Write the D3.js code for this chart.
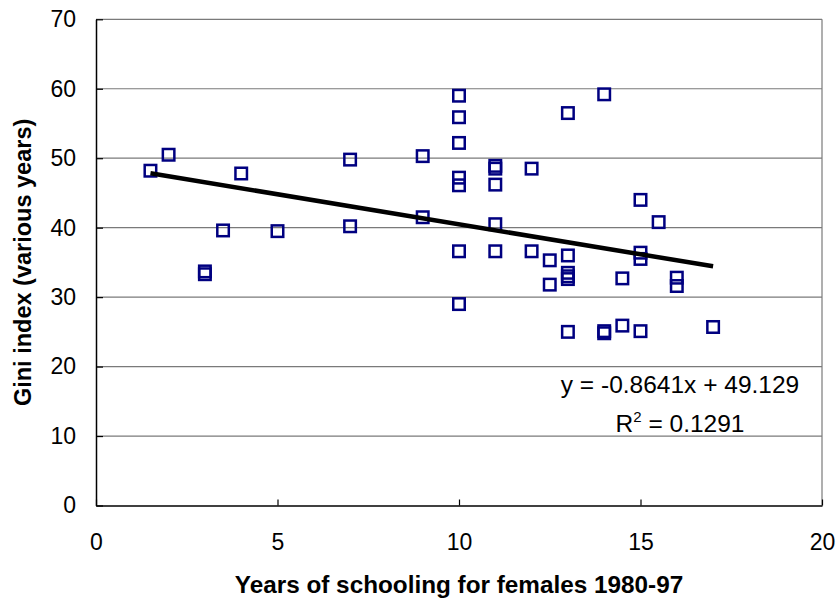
<!DOCTYPE html>
<html>
<head>
<meta charset="utf-8">
<script src="https://cdn.jsdelivr.net/npm/d3@7"></script>
<style>
  body { margin: 0; background: #fff; }
  text { font-family: "Liberation Sans", Arial, sans-serif; }
</style>
</head>
<body>
<div id="chart"></div>
<script>
// years of schooling for females (x) and Gini index (y)
const schooling = [1.5, 2, 3, 3, 3.5, 4, 5, 7, 7, 9, 9,
    10, 10, 10, 10, 10, 10, 10, 11, 11, 11, 11, 11, 12, 12, 12.5, 12.5,
    13, 13, 13, 13, 13, 13, 14, 14, 14, 14.5, 14.5, 15, 15, 15, 15, 15.5, 16, 16, 17];
const gini = [48.2, 50.5, 33.7, 33.3, 39.6, 47.8, 39.5, 49.8, 40.2, 50.3, 41.5,
    59.0, 55.9, 52.2, 47.2, 46.1, 36.6, 29.0, 48.9, 48.5, 46.2, 40.5, 36.6, 48.5, 36.6, 35.3, 31.8,
    56.5, 36.0, 33.5, 33.0, 32.6, 25.0, 59.2, 25.1, 24.8, 32.7, 25.9, 44.0, 36.4, 35.5, 25.1, 40.8, 32.8, 31.6, 25.7];

const xTicks = [0, 5, 10, 15, 20];
const yTicks = [0, 10, 20, 30, 40, 50, 60, 70];

// linear trend
const slope = -0.8641;
const intercept = 49.129;
const rSquared = 0.1291;

const margin = {top: 19.3, right: 18, bottom: 97.5, left: 96},
      width = 840 - margin.left - margin.right,
      height = 603 - margin.top - margin.bottom;

const svg = d3.select("#chart").append("svg")
    .attr("width", 840)
    .attr("height", 603)
  .append("g")
    .attr("transform", `translate(${margin.left},${margin.top})`);

const x = d3.scaleLinear().domain([0, 20]).range([0, width]);
const y = d3.scaleLinear().domain([0, 70]).range([height, 0]);

// gridlines
svg.selectAll(".grid")
    .data(yTicks.filter(d => d > 0))
  .enter().append("line")
    .attr("x1", 0)
    .attr("x2", width)
    .attr("y1", d => y(d))
    .attr("y2", d => y(d))
    .attr("stroke", "#7a7a7a")
    .attr("stroke-width", 1.2);

// right border of plot area
svg.append("line")
    .attr("x1", width).attr("x2", width)
    .attr("y1", 0).attr("y2", height)
    .attr("stroke", "#7a7a7a")
    .attr("stroke-width", 1.2);

// X axis
const xAxis = svg.append("g")
    .attr("transform", `translate(0,${height})`)
    .call(d3.axisBottom(x).tickValues(xTicks).tickSizeInner(-6).tickSizeOuter(0).tickPadding(28));

// Y axis
const yAxis = svg.append("g")
    .call(d3.axisLeft(y).tickValues(yTicks).tickSizeInner(-7).tickSizeOuter(0).tickPadding(20));

[xAxis, yAxis].forEach(a => {
    a.select(".domain").attr("stroke", "#000").attr("stroke-width", 1.5);
    a.selectAll(".tick line").attr("stroke", "#000").attr("stroke-width", 1.2);
    a.selectAll(".tick text")
        .attr("font-family", "'Liberation Sans', Arial, sans-serif")
        .attr("font-size", 23)
        .attr("fill", "#000");
});

// axis titles
svg.append("text")
    .attr("x", width / 2)
    .attr("y", 593 - margin.top)
    .attr("text-anchor", "middle")
    .attr("font-size", 24.3)
    .attr("font-weight", "bold")
    .text("Years of schooling for females 1980-97");

svg.append("text")
    .attr("transform", "rotate(-90)")
    .attr("x", -height / 2)
    .attr("y", 31 - margin.left)
    .attr("text-anchor", "middle")
    .attr("font-size", 23.5)
    .attr("font-weight", "bold")
    .text("Gini index (various years)");

// markers
const points = schooling.map((s, i) => ({s: s, g: gini[i]}));
const side = 11.5;
svg.selectAll(".dot")
    .data(points)
  .enter().append("rect")
    .attr("class", "dot")
    .attr("x", d => x(d.s) - side / 2)
    .attr("y", d => y(d.g) - side / 2)
    .attr("width", side)
    .attr("height", side)
    .attr("fill", "none")
    .attr("stroke", "#000080")
    .attr("stroke-width", 2.5);

// trend line across the range of the data
const xr = d3.extent(schooling);
const line = d3.line()
    .x(d => x(d))
    .y(d => y(intercept + slope * d));

svg.append("path")
    .datum(xr)
    .attr("d", line)
    .attr("fill", "none")
    .attr("stroke", "#000")
    .attr("stroke-width", 4.5);

// equation label
svg.append("text")
    .attr("x", 680 - margin.left)
    .attr("y", 393 - margin.top)
    .attr("text-anchor", "middle")
    .attr("font-size", 24.5)
    .text(`y = ${slope}x + ${intercept}`);

const r2 = svg.append("text")
    .attr("x", 680 - margin.left)
    .attr("y", 432 - margin.top)
    .attr("text-anchor", "middle")
    .attr("font-size", 24.5);
r2.append("tspan").text("R");
r2.append("tspan").attr("dy", -10).attr("font-size", 15).text("2");
r2.append("tspan").attr("dy", 10).text(` = ${rSquared}`);
</script>
</body>
</html>
